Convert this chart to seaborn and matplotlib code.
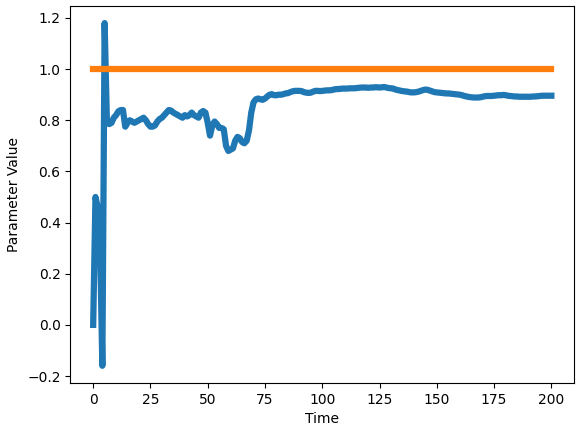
import numpy as np
import pandas as pd
import seaborn as sns
import matplotlib
matplotlib.use("Agg")
import matplotlib.pyplot as plt

# time steps and estimated parameter
time = list(range(201))
estimate = [
    0.00, 0.50, 0.46, 0.32, -0.16, 1.18, 0.79, 0.785, 0.79, 0.81,
    0.82, 0.835, 0.84, 0.84, 0.775, 0.79, 0.80, 0.795, 0.79, 0.795,
    0.80, 0.805, 0.81, 0.80, 0.785, 0.775, 0.775, 0.78, 0.795, 0.805,
    0.81, 0.82, 0.83, 0.84, 0.838, 0.83, 0.825, 0.82, 0.815, 0.81,
    0.82, 0.815, 0.82, 0.83, 0.82, 0.815, 0.81, 0.83, 0.836, 0.83,
    0.79, 0.74, 0.78, 0.795, 0.785, 0.77, 0.77, 0.765, 0.70, 0.68,
    0.685, 0.69, 0.72, 0.735, 0.73, 0.715, 0.71, 0.72, 0.76, 0.83,
    0.87, 0.882, 0.885, 0.882, 0.88, 0.885, 0.893, 0.90, 0.902, 0.898,
    0.898, 0.90, 0.90, 0.902, 0.905, 0.906, 0.91, 0.913, 0.915, 0.915,
    0.915, 0.914, 0.91, 0.908, 0.907, 0.908, 0.912, 0.915, 0.915, 0.914,
    0.915, 0.916, 0.917, 0.917, 0.918, 0.92, 0.922, 0.922, 0.923, 0.924,
    0.924, 0.924, 0.925, 0.925, 0.925, 0.926, 0.927, 0.928, 0.928, 0.928,
    0.927, 0.928, 0.928, 0.929, 0.929, 0.928, 0.929, 0.93, 0.928, 0.926,
    0.925, 0.924, 0.92, 0.918, 0.916, 0.914, 0.913, 0.912, 0.91, 0.909,
    0.909, 0.91, 0.912, 0.915, 0.918, 0.92, 0.919, 0.916, 0.913, 0.91,
    0.909, 0.908, 0.907, 0.906, 0.905, 0.905, 0.904, 0.903, 0.902, 0.901,
    0.90, 0.898, 0.895, 0.893, 0.891, 0.89, 0.889, 0.889, 0.889, 0.89,
    0.892, 0.894, 0.895, 0.895, 0.895, 0.896, 0.897, 0.898, 0.898, 0.899,
    0.898, 0.896, 0.895, 0.894, 0.893, 0.893, 0.892, 0.892, 0.892, 0.892,
    0.892, 0.892, 0.893, 0.893, 0.894, 0.895, 0.896, 0.896, 0.896, 0.896,
    0.896,
]
# true parameter value (constant)
true_time = [0, 200]
true_value = [1.0, 1.0]

df = pd.DataFrame({"Time": time, "Parameter Value": estimate})
df_true = pd.DataFrame({"Time": true_time, "Parameter Value": true_value})

fig, ax = plt.subplots(figsize=(5.76, 4.25), dpi=100)
sns.lineplot(data=df, x="Time", y="Parameter Value", color="#1f77b4", lw=4.5, ax=ax)
sns.lineplot(data=df_true, x="Time", y="Parameter Value", color="#ff7f0e", lw=4.5, ax=ax)

fig.subplots_adjust(left=0.122, right=0.997, top=0.986, bottom=0.099)
fig.savefig("out.png")
